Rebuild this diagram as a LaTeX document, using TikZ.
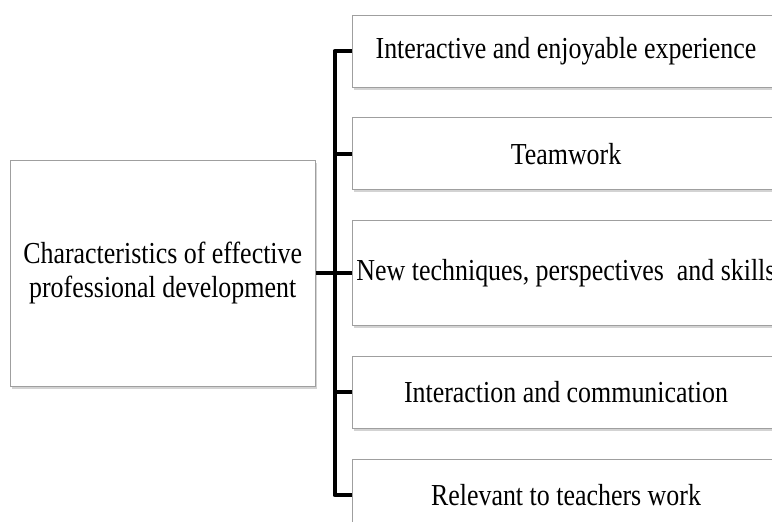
\documentclass[tikz,border=0pt]{standalone}
\usepackage{fontspec}
\setmainfont{Liberation Serif}[FakeStretch=0.85]
\usetikzlibrary{positioning, shadows}

\begin{document}
\begin{tikzpicture}[
        x=1pt, y=1pt,
        node distance=30pt and 36pt,
        item/.style={rectangle, draw=gray!75, line width=0.8pt, fill=white,
                     drop shadow={shadow xshift=2pt, shadow yshift=-2.5pt, opacity=0.35},
                     minimum width=428pt, minimum height=72pt, inner sep=2pt,
                     align=center, font=\fontsize{30.5}{34}\selectfont},
        link/.style={line width=4pt, line join=round},
    ]
        \useasboundingbox (0,0) rectangle (772,-522);
        \clip (0,0) rectangle (772,-522);

        % Characteristics, stacked on the right
        \node[item] (fun) at (566,-51) {Interactive and enjoyable experience};
        \node[item, below=of fun] (team) {Teamwork};
        \node[item, below=of team, minimum height=105pt] (skills) {New techniques, perspectives\ \ and skills};
        \node[item, below=of skills] (talk) {Interaction and communication};
        \node[item, below=of talk] (work) {Relevant to teachers work};

        % Main topic
        \node[item, left=of skills, minimum width=305pt, minimum height=226pt] (pd)
            {Characteristics of effective\\professional development};

        % Bracket joining them
        \draw[link] (pd) -- (skills);
        \draw[link] (fun.west) -- ++(-17,0) |- (work.west);
        \foreach \n in {team, talk}
            \draw[link] (\n.west) -- ++(-17,0);

    \end{tikzpicture}
\end{document}
